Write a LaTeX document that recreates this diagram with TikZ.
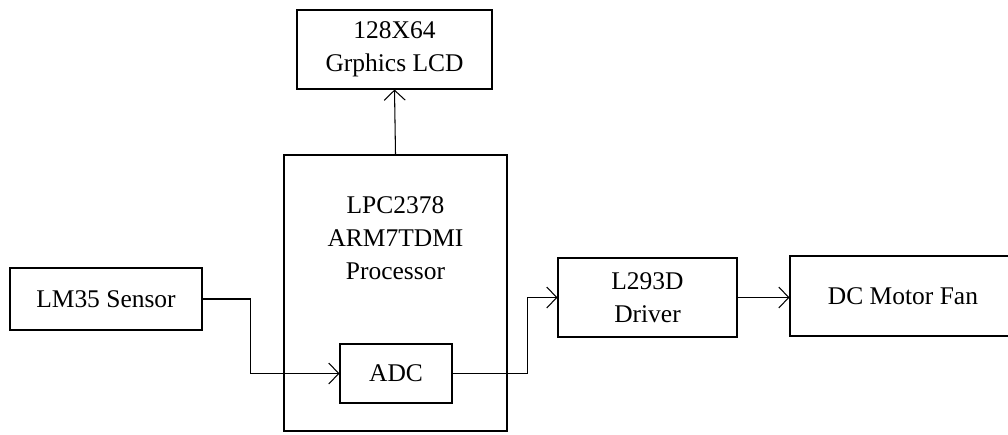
\documentclass[tikz,border=0pt]{standalone}
\usepackage{fontspec}
\setmainfont{Liberation Serif}
\usetikzlibrary{arrows.meta}

\begin{document}
\begin{tikzpicture}[
    every node/.style={font=\fontsize{14.5}{18.7}\selectfont},
    block/.style={draw, line width=0.6pt, align=center, inner sep=0pt},
    flow/.style={-{Straight Barb[length=0.2cm, width=0.42cm, line width=0.6pt]}, line width=0.6pt}]
  \useasboundingbox (0,0) rectangle (20.16,8.68);

  \node[block, minimum width=3.9cm, minimum height=1.58cm] (lcd) at (7.89,7.69)
  {128X64\\Grphics LCD};

  \node[block, minimum width=4.46cm, minimum height=5.52cm] (proc) at (7.91,2.82) {};
  \node[align=center] (proctext) at (7.91,3.92)
  {LPC2378\\ARM7TDMI\\Processor};

  \node[block, minimum width=2.24cm, minimum height=1.18cm] (adc) at (7.92,1.21)
  {ADC};

  \node[block, minimum width=3.84cm, minimum height=1.24cm] (sensor) at (2.12,2.70)
  {LM35 Sensor};

  \node[block, minimum width=3.58cm, minimum height=1.58cm] (driver) at (12.95,2.73)
  {L293D\\Driver};

  \node[block, minimum width=4.52cm, minimum height=1.6cm] (fan) at (18.06,2.76)
  {DC Motor Fan};

  % signal path
  \draw[flow] (sensor.east) -- ++(0.96,0) |- (adc.west);
  \draw[flow] (adc.east) -- ++(1.5,0) |- (driver.west);
  \draw[flow] (driver.east) -- (driver.east -| fan.west);
  \draw[flow] (proc.north) -- (lcd.south);
\end{tikzpicture}
\end{document}
